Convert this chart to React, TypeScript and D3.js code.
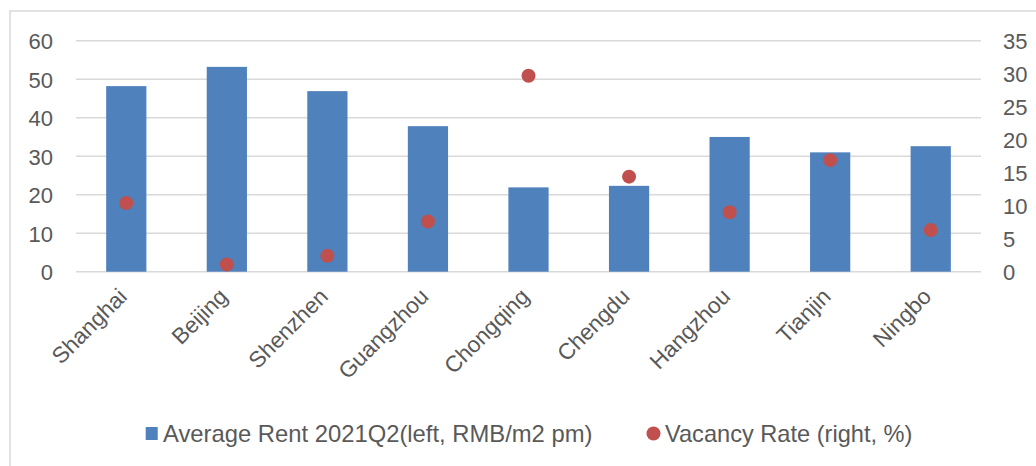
import React from "react";
import * as d3 from "d3";

const cities = ["Shanghai", "Beijing", "Shenzhen", "Guangzhou", "Chongqing", "Chengdu", "Hangzhou", "Tianjin", "Ningbo"];
const rent = [48.2, 53.2, 46.9, 37.8, 21.9, 22.3, 35.0, 31.0, 32.6];
const vacancy = [10.4, 1.1, 2.4, 7.6, 29.7, 14.4, 9.0, 16.9, 6.3];
const leftTicks = [0, 10, 20, 30, 40, 50, 60];
const rightTicks = [0, 5, 10, 15, 20, 25, 30, 35];
const legendRent = "Average Rent 2021Q2(left, RMB/m2 pm)";
const legendVac = "Vacancy Rate (right, %)";

const W = 1036, H = 466;
const plotL = 76, plotR = 981, plotT = 40.7, plotB = 271.7;
const textColor = "#595959";
const gridColor = "#d9d9d9";
const barColor = "#4f81bd";
const dotColor = "#c0504d";
const font = "'Liberation Sans', Arial, Helvetica, sans-serif";

export default function App() {
  const x = d3.scaleBand<string>().domain(cities).range([plotL, plotR]).paddingInner(0.6).paddingOuter(0.3);
  const yL = d3.scaleLinear().domain([0, 60]).range([plotB, plotT]);
  const yR = d3.scaleLinear().domain([0, 35]).range([plotB, plotT]);
  return (
    <svg width={W} height={H} style={{ position: "absolute", left: 0, top: 0, background: "#fff" }} fontFamily={font}>
      <rect x={10} y={11} width={W + 10} height={H + 10} fill="#fff" stroke={gridColor} strokeWidth={1.5} />
      {leftTicks.map((t) => (
        <line key={"g" + t} x1={plotL} x2={plotR} y1={yL(t)} y2={yL(t)} stroke={gridColor} strokeWidth={1.5} />
      ))}
      {leftTicks.map((t) => (
        <text key={"l" + t} x={53} y={yL(t) + 1} textAnchor="end" dominantBaseline="central" fontSize={22} fill={textColor}>{t}</text>
      ))}
      {rightTicks.map((t) => (
        <text key={"r" + t} x={1003} y={yR(t) + 1} textAnchor="start" dominantBaseline="central" fontSize={22} fill={textColor}>{t}</text>
      ))}
      {cities.map((c, i) => (
        <rect key={"b" + c} x={x(c)} y={yL(rent[i])} width={x.bandwidth()} height={plotB - yL(rent[i])} fill={barColor} />
      ))}
      {cities.map((c, i) => (
        <circle key={"d" + c} cx={(x(c) as number) + x.bandwidth() / 2} cy={yR(vacancy[i])} r={7} fill={dotColor} />
      ))}
      {cities.map((c) => {
        const cx = (x(c) as number) + x.bandwidth() / 2 + 2;
        const cy = 298;
        return (
          <text key={"c" + c} x={cx} y={cy} textAnchor="end" fontSize={22.5} fill={textColor} transform={`rotate(-45 ${cx} ${cy})`}>{c}</text>
        );
      })}
      <rect x={145.7} y={427} width={12} height={13} fill={barColor} />
      <text x={163} y={442} fontSize={23.8} fill={textColor}>{legendRent}</text>
      <circle cx={653.5} cy={433.5} r={7} fill={dotColor} />
      <text x={665} y={442} fontSize={23.6} fill={textColor}>{legendVac}</text>
    </svg>
  );
}
